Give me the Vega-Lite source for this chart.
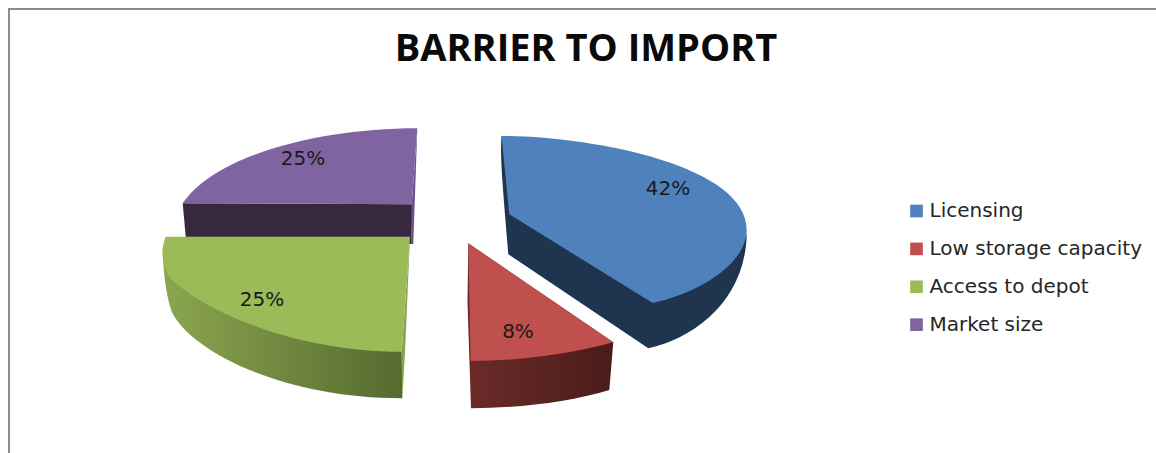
{
  "$schema": "https://vega.github.io/schema/vega-lite/v6.json",
  "autosize": {"type": "none"},
  "padding": {"left": 9, "top": 9, "right": 0, "bottom": 0},
  "width": 1148,
  "height": 446,
  "background": "white",
  "view": {"stroke": "#8c8c8c", "strokeWidth": 2},
  "title": {
    "text": "BARRIER TO IMPORT",
    "font": "Open Sans",
    "fontSize": 38,
    "fontWeight": "bold",
    "color": "#0a0a0a",
    "anchor": "middle",
    "baseline": "alphabetic",
    "offset": -53,
    "dy": 37,
    "dx": 3
  },
  "config": {"style": {"cell": {"stroke": "#8c8c8c", "strokeWidth": 2}}},
  "data": {
    "values": [
      {"barrier": "Licensing", "share": 0.42},
      {"barrier": "Low storage capacity", "share": 0.08},
      {"barrier": "Access to depot", "share": 0.25},
      {"barrier": "Market size", "share": 0.25}
    ]
  },
  "layer": [
    {
      "transform": [{"filter": "datum.barrier === 'Market size'"}],
      "mark": {"type": "point", "filled": true, "opacity": 1, "size": 4, "fill": "#38283f",
        "shape": "M-400.3 -28.7 L-397 8 L-172 12 L-170 -27.7 Z"}
    },
    {
      "transform": [{"filter": "datum.barrier === 'Market size'"}],
      "mark": {"type": "point", "filled": true, "opacity": 1, "size": 4, "fill": "#6a5389",
        "shape": "M-165.7 -103.7 L-169.7 12 L-172 12 L-171.3 -27.7 Z"}
    },
    {
      "transform": [{"filter": "datum.barrier === 'Licensing'"}],
      "mark": {"type": "point", "filled": true, "opacity": 1, "size": 4, "fill": "#1f354f",
        "shape": "M-81.5 -96 C-83 -77 -81 -52 -74.7 22.3 L65.3 116.3 C112 106 162 68 163.7 3 Z"}
    },
    {
      "transform": [{"filter": "datum.barrier === 'Low storage capacity'"}],
      "mark": {"type": "point", "filled": true, "opacity": 1, "size": 4,
        "fill": {"gradient": "linear", "x1": 0, "y1": 0, "x2": 1, "y2": 0,
          "stops": [{"offset": 0, "color": "#6b2b29"}, {"offset": 1, "color": "#4a1c1a"}]},
        "shape": "M-114.7 11.3 L-115.5 70 L-112 176.3 C-63 176 -13 170 26.3 158 L30.3 110.3 Z"}
    },
    {
      "transform": [{"filter": "datum.barrier === 'Access to depot'"}],
      "mark": {"type": "point", "filled": true, "opacity": 1, "size": 4,
        "fill": {"gradient": "linear", "x1": 0, "y1": 0, "x2": 1, "y2": 0,
          "stops": [{"offset": 0, "color": "#8ba650"}, {"offset": 1, "color": "#556a2f"}]},
        "shape": "M-420.3 19 C-419 53 -415 68 -411.3 79.7 C-393 118 -303 166.3 -180.7 166.3 L-181.3 119 Z"}
    },
    {
      "transform": [{"filter": "datum.barrier === 'Access to depot'"}],
      "mark": {"type": "point", "filled": true, "opacity": 1, "size": 4, "fill": "#86a34a",
        "shape": "M-173 4.7 L-178 119.7 L-180.7 166.3 L-181.3 119.7 Z"}
    },
    {
      "transform": [{"filter": "datum.barrier === 'Licensing'"}],
      "mark": {"type": "point", "filled": true, "opacity": 1, "size": 4,
        "shape": "M-81.5 -96 C7 -96 164 -67 163.7 -2 C163.7 30 120 60 69.7 71 L-73.7 -17.7 Z"},
      "encoding": {
        "color": {
          "field": "barrier",
          "type": "nominal",
          "scale": {
            "domain": ["Licensing", "Low storage capacity", "Access to depot", "Market size"],
            "range": ["#4f81bd", "#c0504d", "#9bbb59", "#8064a2"]
          },
          "legend": {
            "title": null,
            "orient": "none",
            "legendX": 897.5,
            "legendY": 192,
            "symbolType": "square",
            "symbolSize": 160,
            "symbolOpacity": 1,
            "symbolStrokeWidth": 0,
            "labelFont": "DejaVu Sans",
            "labelFontSize": 20,
            "labelColor": "#262626",
            "labelOffset": 3,
            "labelLimit": 300,
            "rowPadding": 17.9
          }
        }
      }
    },
    {
      "transform": [{"filter": "datum.barrier === 'Low storage capacity'"}],
      "mark": {"type": "point", "filled": true, "opacity": 1, "size": 4,
        "shape": "M-114.7 11.3 L30.3 110.3 C-13 122 -63 129 -112.3 129 Z"},
      "encoding": {"color": {"field": "barrier", "type": "nominal"}}
    },
    {
      "transform": [{"filter": "datum.barrier === 'Access to depot'"}],
      "mark": {"type": "point", "filled": true, "opacity": 1, "size": 4,
        "shape": "M-417.3 4.7 C-423 18 -421 33 -413 46 C-383 76 -293 119.7 -181.3 119.7 L-173 4.7 Z"},
      "encoding": {"color": {"field": "barrier", "type": "nominal"}}
    },
    {
      "transform": [{"filter": "datum.barrier === 'Market size'"}],
      "mark": {"type": "point", "filled": true, "opacity": 1, "size": 4,
        "shape": "M-400.3 -28.7 C-368 -77 -263 -103.7 -165.7 -103.7 L-171.3 -27.7 Z"},
      "encoding": {"color": {"field": "barrier", "type": "nominal"}}
    },
    {
      "transform": [{"filter": "datum.barrier === 'Licensing'"}],
      "mark": {"type": "text", "font": "DejaVu Sans", "fontSize": 20, "color": "#1a1a1a", "baseline": "middle", "xOffset": 85, "yOffset": -43},
      "encoding": {"text": {"field": "share", "type": "quantitative", "format": ".0%"}}
    },
    {
      "transform": [{"filter": "datum.barrier === 'Low storage capacity'"}],
      "mark": {"type": "text", "font": "DejaVu Sans", "fontSize": 20, "color": "#1a1a1a", "baseline": "middle", "xOffset": -65, "yOffset": 100},
      "encoding": {"text": {"field": "share", "type": "quantitative", "format": ".0%"}}
    },
    {
      "transform": [{"filter": "datum.barrier === 'Access to depot'"}],
      "mark": {"type": "text", "font": "DejaVu Sans", "fontSize": 20, "color": "#1a1a1a", "baseline": "middle", "xOffset": -321, "yOffset": 68},
      "encoding": {"text": {"field": "share", "type": "quantitative", "format": ".0%"}}
    },
    {
      "transform": [{"filter": "datum.barrier === 'Market size'"}],
      "mark": {"type": "text", "font": "DejaVu Sans", "fontSize": 20, "color": "#1a1a1a", "baseline": "middle", "xOffset": -280, "yOffset": -73},
      "encoding": {"text": {"field": "share", "type": "quantitative", "format": ".0%"}}
    }
  ]
}
